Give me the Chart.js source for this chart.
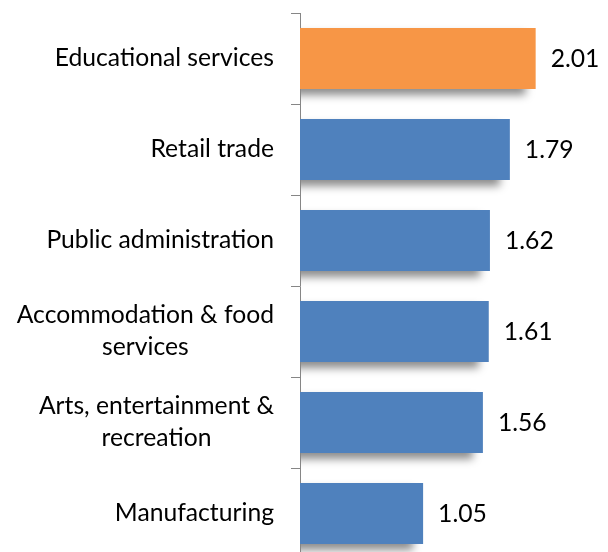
<!DOCTYPE html>
<html>
<head>
<meta charset="utf-8">
<script src="https://cdn.jsdelivr.net/npm/chart.js@4.4.1/dist/chart.umd.min.js"></script>
<style>
  html, body { margin: 0; padding: 0; background: #fff; overflow: hidden; }
</style>
</head>
<body>
<canvas id="industry-chart" width="608" height="559"></canvas>
<script>
// industries (multi-line names are arrays), top to bottom
const industries = [
    'Educational services',
    'Retail trade',
    'Public administration',
    ['Accommodation & food', 'services'],
    ['Arts, entertainment &', 'recreation'],
    'Manufacturing'
];
const rates = [2.01, 1.79, 1.62, 1.61, 1.56, 1.05];
const barColors = ['#F79646', '#4F81BD', '#4F81BD', '#4F81BD', '#4F81BD', '#4F81BD'];

const FONT = '24.7px Lato';

// soft shadow under each bar, slightly shorter than the bar
const barShadow = {
    id: 'barShadow',
    beforeDatasetsDraw(chart) {
        const { ctx, chartArea } = chart;
        const bars = chart.getDatasetMeta(0).data;
        ctx.save();
        ctx.beginPath();
        ctx.rect(chartArea.left + 1, chartArea.top, chartArea.width, chartArea.height + 20);
        ctx.clip();
        ctx.filter = 'blur(4px)';
        ctx.fillStyle = 'rgba(0, 0, 0, 0.45)';
        bars.forEach(bar => {
            const h = bar.height;
            ctx.fillRect(bar.base - 10, bar.y - h / 2 + 6, bar.x - bar.base, h);
        });
        ctx.restore();
    }
};

// value text to the right of each bar
const valueLabels = {
    id: 'valueLabels',
    afterDatasetsDraw(chart) {
        const { ctx } = chart;
        const bars = chart.getDatasetMeta(0).data;
        ctx.save();
        ctx.font = FONT;
        ctx.fillStyle = '#000';
        ctx.textAlign = 'left';
        ctx.textBaseline = 'middle';
        bars.forEach((bar, i) => {
            ctx.fillText(rates[i].toFixed(2), bar.x + 15, bar.y + 1);
        });
        ctx.restore();
    }
};

// category names: right aligned block, lines centred within the block
const categoryLabels = {
    id: 'categoryLabels',
    afterDraw(chart) {
        const { ctx } = chart;
        const y = chart.scales.y;
        ctx.save();
        ctx.font = FONT;
        ctx.fillStyle = '#000';
        ctx.textAlign = 'center';
        ctx.textBaseline = 'middle';
        industries.forEach((label, i) => {
            const lines = [].concat(label);
            const w = Math.max(...lines.map(l => ctx.measureText(l).width));
            const cx = y.right - 26 - w / 2;
            const cy = y.getPixelForTick(i);
            lines.forEach((line, j) => {
                ctx.fillText(line, cx, cy + (j - (lines.length - 1) / 2) * 32);
            });
        });
        ctx.restore();
    }
};

new Chart(document.getElementById('industry-chart'), {
    type: 'bar',
    data: {
        labels: industries,
        datasets: [{
            data: rates,
            backgroundColor: barColors,
            borderWidth: 0,
            barPercentage: 0.67,
            categoryPercentage: 1
        }]
    },
    options: {
        indexAxis: 'y',
        responsive: false,
        animation: false,
        layout: { padding: { top: 13, right: 0, bottom: 0, left: 0 } },
        plugins: {
            legend: { display: false },
            tooltip: { enabled: false }
        },
        scales: {
            x: { display: false, min: 0, max: 2.627 },
            y: {
                grid: { drawOnChartArea: false, color: '#868686', tickLength: 9, offset: true },
                border: { color: '#868686', width: 1 },
                ticks: { display: false },
                afterFit(scale) { scale.width = 300; }
            }
        }
    },
    plugins: [barShadow, valueLabels, categoryLabels]
});
</script>
</body>
</html>
